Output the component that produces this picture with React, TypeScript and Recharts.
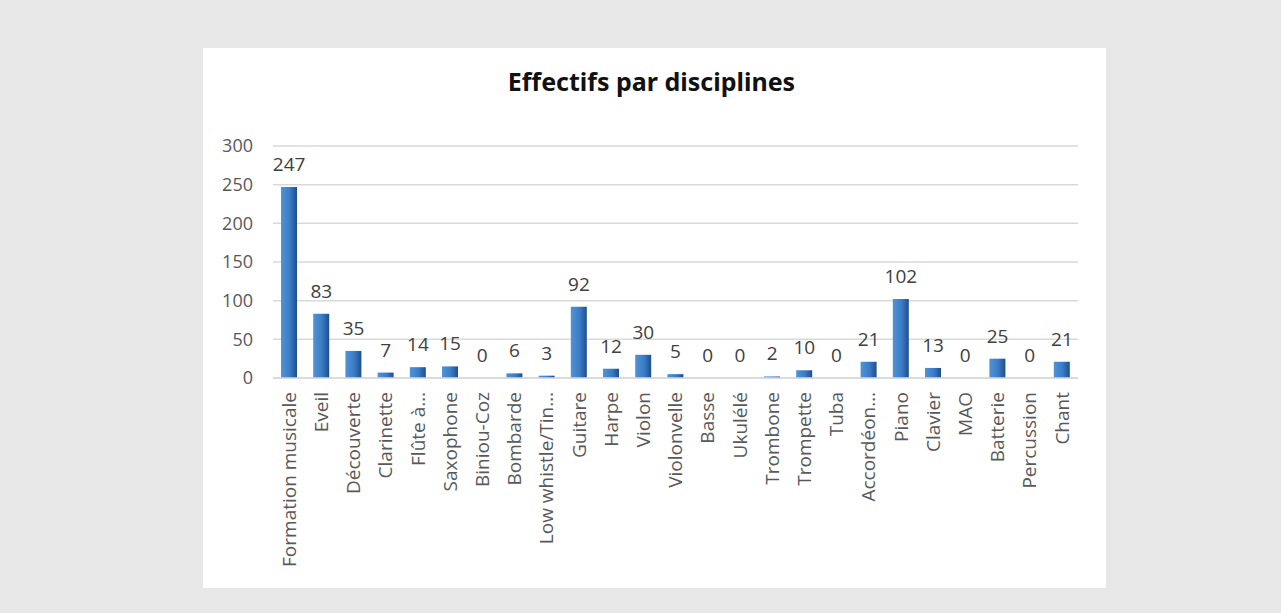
import { ComposedChart, Bar, Line, XAxis, YAxis, CartesianGrid, LabelList } from "recharts";

const disciplines = [
  "Formation musicale",
  "Eveil",
  "Découverte",
  "Clarinette",
  "Flûte à…",
  "Saxophone",
  "Biniou-Coz",
  "Bombarde",
  "Low whistle/Tin…",
  "Guitare",
  "Harpe",
  "Violon",
  "Violonvelle",
  "Basse",
  "Ukulélé",
  "Trombone",
  "Trompette",
  "Tuba",
  "Accordéon…",
  "Piano",
  "Clavier",
  "MAO",
  "Batterie",
  "Percussion",
  "Chant",
];

const effectifs = [247, 83, 35, 7, 14, 15, 0, 6, 3, 92, 12, 30, 5, 0, 0, 2, 10, 0, 21, 102, 13, 0, 25, 0, 21];

const yTicks = [0, 50, 100, 150, 200, 250, 300];

const data = disciplines.map((name, i) => ({ name, value: effectifs[i] }));

const FONT = "'Open Sans', 'DejaVu Sans', sans-serif";

function CategoryTick({ x, y, payload }: any) {
  return (
    <g transform={`translate(${x},${y})`}>
      <text
        transform="rotate(-90)"
        x={-12}
        y={0}
        dy="0.35em"
        textAnchor="end"
        fill="#595959"
        fontSize={19}
        fontFamily={FONT}
      >
        {payload.value}
      </text>
    </g>
  );
}

export default function App() {
  return (
    <div
      style={{
        position: "absolute",
        left: 0,
        top: 0,
        width: 1281,
        height: 613,
        background: "#e7e7e7",
      }}
    >
      <div
        style={{
          position: "absolute",
          left: 203,
          top: 48,
          width: 903,
          height: 540,
          background: "#ffffff",
        }}
      >
        <div
          style={{
            position: "absolute",
            left: -3,
            top: 16,
            width: 903,
            textAlign: "center",
            fontFamily: "'Noto Sans', sans-serif",
            fontWeight: 700,
            fontSize: 25,
            color: "#111",
          }}
        >
          Effectifs par disciplines
        </div>
        <ComposedChart
          width={903}
          height={540}
          data={data}
          margin={{ top: 98, right: 28, left: 0, bottom: 10 }}
          barSize={16}
        >
          <defs>
            <linearGradient id="barFill" x1="0" y1="0" x2="1" y2="0">
              <stop offset="0%" stopColor="#5093d6" />
              <stop offset="55%" stopColor="#3b7cc5" />
              <stop offset="100%" stopColor="#1d4e8e" />
            </linearGradient>
          </defs>
          <CartesianGrid vertical={false} stroke="#d9d9d9" strokeWidth={1.5} />
          <XAxis
            dataKey="name"
            interval={0}
            height={200}
            tick={<CategoryTick />}
            tickLine={false}
            tickSize={0}
            axisLine={{ stroke: "#d9d9d9", strokeWidth: 1.5 }}
          />
          <YAxis
            domain={[0, 300]}
            ticks={yTicks}
            width={70}
            axisLine={false}
            tickLine={false}
            tickSize={0}
            tickMargin={20}
            tick={{ fill: "#595959", fontSize: 18, fontFamily: FONT }}
          />
          <Bar dataKey="value" fill="url(#barFill)" isAnimationActive={false} />
          <Line
            dataKey="value"
            stroke="none"
            dot={false}
            activeDot={false}
            isAnimationActive={false}
          >
            <LabelList
              dataKey="value"
              position="top"
              offset={16}
              fill="#404040"
              fontSize={19}
              fontFamily={FONT}
            />
          </Line>
        </ComposedChart>
      </div>
    </div>
  );
}
